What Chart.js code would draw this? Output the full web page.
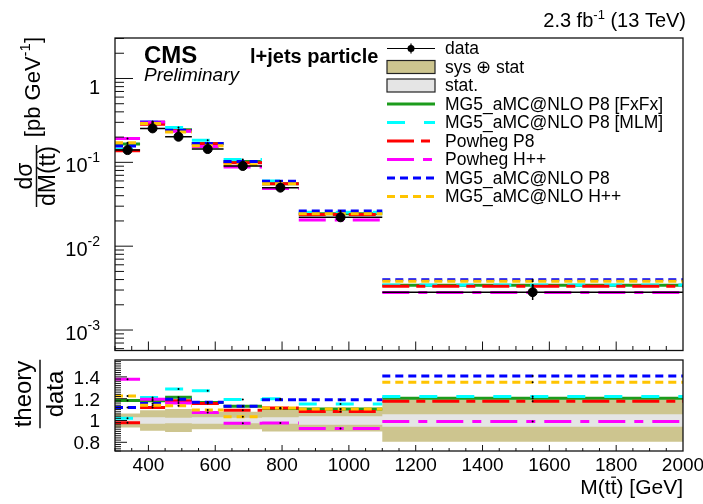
<!DOCTYPE html>
<html>
<head>
<meta charset="utf-8">
<script src="https://cdn.jsdelivr.net/npm/chart.js@4.4.1/dist/chart.umd.min.js"></script>
<style>
html,body{margin:0;padding:0;background:#fff;}
#wrap{position:relative;width:703px;height:504px;overflow:hidden;}
canvas{position:absolute;left:0;}
#top{top:0;}
#bot{top:356px;}
</style>
</head>
<body>
<div id="wrap">
<canvas id="top" width="703" height="356"></canvas>
<canvas id="bot" width="703" height="148"></canvas>
</div>
<script>
// bins in M(ttbar) [GeV]
const binEdges = [300, 375, 450, 530, 625, 740, 850, 1100, 2000];

// data, pb/GeV, and relative uncertainties
const dataXsec = [0.140, 0.254, 0.202, 0.144, 0.0904, 0.0499, 0.0221, 0.00283];
const totUnc   = [0.065, 0.095, 0.105, 0.080, 0.080, 0.100, 0.100, 0.195];
const statUnc  = [0.030, 0.030, 0.025, 0.030, 0.025, 0.030, 0.040, 0.058];

// predictions, pb/GeV
const fxfxXsec   = [0.1656, 0.2997, 0.2450, 0.1678, 0.1022, 0.0554, 0.02442, 0.00341];
const mlmXsec    = [0.1428, 0.3073, 0.2606, 0.1833, 0.1078, 0.0599, 0.02546, 0.00345];
const powP8Xsec  = [0.1372, 0.2845, 0.2384, 0.1665, 0.0988, 0.0556, 0.02391, 0.00333];
const powHppXsec = [0.1929, 0.3035, 0.2343, 0.1545, 0.0881, 0.0487, 0.02046, 0.00280];
const mgP8Xsec   = [0.1568, 0.2936, 0.2414, 0.1682, 0.1022, 0.0594, 0.02630, 0.00398];
const mgHppXsec  = [0.1715, 0.2896, 0.2293, 0.1578, 0.0936, 0.0556, 0.02442, 0.00382];

// theory / data
const fxfxRatio   = [1.183, 1.180, 1.213, 1.165, 1.130, 1.110, 1.105, 1.205];
const mlmRatio    = [1.020, 1.210, 1.290, 1.273, 1.193, 1.200, 1.152, 1.220];
const powP8Ratio  = [0.980, 1.120, 1.180, 1.156, 1.093, 1.115, 1.082, 1.177];
const powHppRatio = [1.378, 1.195, 1.160, 1.073, 0.975, 0.976, 0.926, 0.990];
const mgP8Ratio   = [1.120, 1.156, 1.195, 1.168, 1.130, 1.190, 1.190, 1.408];
const mgHppRatio  = [1.225, 1.140, 1.135, 1.096, 1.035, 1.115, 1.105, 1.350];

const modelNames = ["MG5_aMC@NLO P8 [FxFx]", "MG5_aMC@NLO P8 [MLM]", "Powheg P8",
                    "Powheg H++", "MG5_aMC@NLO P8", "MG5_aMC@NLO H++"];

// axis ticks / labels
const xLabelTicks  = [400, 600, 800, 1000, 1200, 1400, 1600, 1800, 2000];
const yTopTicks    = [1, 0.1, 0.01, 0.001];
const yTopExp      = ["", "-1", "-2", "-3"];
const yRatioTicks  = [0.8, 1, 1.2, 1.4];
const yRatioLabels = ["0.8", "1", "1.2", "1.4"];

/**************** styles *****************/
const FONT = "'Liberation Sans', Arial, Helvetica, sans-serif";
const modelStyle = [
  {color:"#1c9c1c", dash:[]},
  {color:"#00ffff", dash:[18,19]},
  {color:"#ff0000", dash:[27,7,9,7]},
  {color:"#ff00ff", dash:[27,9,9,9]},
  {color:"#0000ff", dash:[8,5]},
  {color:"#ffc400", dash:[8,5]}
];
const SYS_COLOR = "#cdc58f";
const STAT_COLOR = "#e5e5e5";

/**************** helpers *****************/
function binSegs(vals){
  const pts = [];
  vals.forEach((v,i)=>{
    pts.push({x:binEdges[i], y:v}, {x:binEdges[i+1], y:v}, {x:binEdges[i+1], y:null});
  });
  return pts;
}
function stepPts(vals){
  const pts = vals.map((v,i)=>({x:binEdges[i], y:v}));
  pts.push({x:binEdges[binEdges.length-1], y:vals[vals.length-1]});
  return pts;
}
function centers(){
  return dataXsec.map((v,i)=>(binEdges[i]+binEdges[i+1])/2);
}
function modelSets(arrs){
  const lines = arrs.map((a,i)=>({
    data: binSegs(a),
    borderColor: modelStyle[i].color,
    borderDash: modelStyle[i].dash,
    borderWidth: 3,
    pointRadius: 0,
    fill: false,
    order: 6 - i
  }));
  // tiny MC stat marks at bin centres
  const marks = arrs.map(a=>({
    data: a.map((v,i)=>({x:(binEdges[i]+binEdges[i+1])/2, y:v})),
    showLine:false, pointRadius:1, pointBorderWidth:0,
    pointBackgroundColor:"#000", pointBorderColor:"#000", order:0.5
  }));
  return lines.concat(marks);
}

function partsWidth(ctx, parts){
  let w = 0;
  parts.forEach(p=>{ ctx.font = (p.style||"")+" "+p.size+"px "+FONT; w += ctx.measureText(p.t).width; });
  return w;
}
function drawParts(ctx, parts, x, y, align){
  const w = partsWidth(ctx, parts);
  let cx = align==="right" ? x-w : (align==="center" ? x-w/2 : x);
  ctx.textAlign = "left";
  ctx.textBaseline = "alphabetic";
  parts.forEach(p=>{
    ctx.font = (p.style||"")+" "+p.size+"px "+FONT;
    const pw = ctx.measureText(p.t).width;
    ctx.fillText(p.t, cx, y + (p.dy||0));
    if(p.bar){
      ctx.beginPath();
      ctx.lineWidth = 1.3;
      const by = y - p.size*0.8;
      ctx.moveTo(cx+0.5, by); ctx.lineTo(cx+pw-0.5, by);
      ctx.stroke();
    }
    cx += pw;
  });
  return w;
}
function seg(ctx, x1, y1, x2, y2){
  ctx.beginPath(); ctx.moveTo(x1,y1); ctx.lineTo(x2,y2); ctx.stroke();
}
function frame(ctx, a){
  ctx.strokeStyle = "#111";
  ctx.lineWidth = 1.3;
  ctx.strokeRect(a.left, a.top, a.right-a.left, a.bottom-a.top);
}
function xTickMarks(chart, majLen, minLen){
  const ctx = chart.ctx, a = chart.chartArea, sx = chart.scales.x;
  ctx.strokeStyle = "#111"; ctx.lineWidth = 1;
  for(let v=300; v<2000; v+=50){
    const px = sx.getPixelForValue(v);
    seg(ctx, px, a.bottom, px, a.bottom - (v%200===0 ? majLen : minLen));
  }
}

/**************** TOP PANEL *****************/
const topDecor = {
  id:"topDecor",
  afterDraw(chart){
    const ctx = chart.ctx, a = chart.chartArea, sy = chart.scales.y;
    ctx.save();
    frame(ctx, a);
    xTickMarks(chart, 9, 4.5);
    // y ticks (log)
    ctx.lineWidth = 1;
    for(let d=-4; d<=0; d++){
      for(let m=1; m<=9; m++){
        const v = m*Math.pow(10,d);
        if(v < sy.min || v > sy.max) continue;
        const py = sy.getPixelForValue(v);
        seg(ctx, a.left, py, a.left + (m===1 ? 18 : 9), py);
      }
    }
    ctx.fillStyle = "#000";
    yTopTicks.forEach((v,i)=>{
      const py = sy.getPixelForValue(v);
      if(yTopExp[i]===""){
        drawParts(ctx, [{t:"1", size:20}], 100, py+16, "right");
      } else {
        drawParts(ctx, [{t:"10", size:20}, {t:yTopExp[i], size:14, dy:-10}], 100, py+10, "right");
      }
    });

    // y title
    ctx.save();
    ctx.translate(40, 37);
    ctx.rotate(-Math.PI/2);
    drawParts(ctx, [{t:"[pb GeV", size:22}, {t:"-1", size:15, dy:-10}, {t:"]", size:22}], 0, 0, "right");
    ctx.restore();
    ctx.save();
    ctx.translate(0, 176);
    ctx.rotate(-Math.PI/2);
    drawParts(ctx, [{t:"d\u03c3", size:23}], 0, 32, "center");
    const wDen = drawParts(ctx, [{t:"dM(t", size:23}, {t:"t", size:23, bar:true}, {t:")", size:23}], 0, 55, "center");
    ctx.lineWidth = 1.5;
    seg(ctx, -wDen/2-1, 36.5, wDen/2+1, 36.5);
    ctx.restore();

    // labels
    drawParts(ctx, [{t:"CMS", size:24, style:"bold"}], 144, 63, "left");
    drawParts(ctx, [{t:"Preliminary", size:19, style:"italic"}], 144, 81, "left");
    drawParts(ctx, [{t:"l+jets particle", size:20, style:"bold"}], 250, 63, "left");
    drawParts(ctx, [{t:"2.3 fb", size:20}, {t:"-1", size:13, dy:-8}, {t:" (13 TeV)", size:20}], 686, 27, "right");

    // legend
    const lx1 = 387, lx2 = 435, tx = 445, y0 = 48.5, dy = 18.5;
    ctx.font = "17.5px "+FONT;
    ctx.textBaseline = "middle"; ctx.textAlign = "left";
    const names = ["data", "sys \u2295 stat", "stat."].concat(modelNames);
    names.forEach((n,i)=>{ ctx.fillStyle="#000"; ctx.fillText(n, tx, y0 + i*dy + 1); });
    let y = y0;
    ctx.strokeStyle = "#000"; ctx.lineWidth = 1.2;
    seg(ctx, lx1, y, lx2, y);
    seg(ctx, (lx1+lx2)/2, y-5, (lx1+lx2)/2, y+5);
    ctx.beginPath(); ctx.arc((lx1+lx2)/2, y, 3.5, 0, Math.PI*2); ctx.fillStyle="#000"; ctx.fill();
    [SYS_COLOR, STAT_COLOR].forEach((c,i)=>{
      const yy = y0 + (i+1)*dy;
      ctx.fillStyle = c; ctx.fillRect(lx1, yy-6.5, lx2-lx1, 13);
      ctx.strokeStyle = "#222"; ctx.lineWidth = 1.2; ctx.strokeRect(lx1, yy-6.5, lx2-lx1, 13);
    });
    modelStyle.forEach((s,i)=>{
      const yy = y0 + (i+3)*dy;
      ctx.strokeStyle = s.color; ctx.lineWidth = 3; ctx.setLineDash(s.dash);
      seg(ctx, lx1, yy, lx2, yy);
    });
    ctx.setLineDash([]);
    ctx.restore();
  }
};

const c = centers();
new Chart(document.getElementById("top"), {
  type: "line",
  data: {
    datasets: modelSets([fxfxXsec, mlmXsec, powP8Xsec, powHppXsec, mgP8Xsec, mgHppXsec]).concat([
      { data: binSegs(dataXsec), borderColor:"#000", borderWidth:1.5, pointRadius:0, order:0 },
      { data: c.flatMap((x,i)=>[{x:x, y:dataXsec[i]*(1-totUnc[i])}, {x:x, y:dataXsec[i]*(1+totUnc[i])}, {x:x, y:null}]),
        borderColor:"#000", borderWidth:1.5, pointRadius:0, order:0 },
      { data: c.map((x,i)=>({x:x, y:dataXsec[i]})), showLine:false, pointRadius:4.5,
        pointBackgroundColor:"#000", pointBorderColor:"#000", order:0 }
    ])
  },
  options: {
    responsive:false, animation:false, events:[],
    layout:{padding:{left:115, right:20, top:38, bottom:5}},
    plugins:{legend:{display:false}, tooltip:{enabled:false}},
    scales:{
      x:{type:"linear", min:300, max:2000, display:false},
      y:{type:"logarithmic", min:5.7e-4, max:3.04, display:false}
    }
  },
  plugins:[topDecor]
});

/**************** RATIO PANEL *****************/
const OFF = 356;
const botDecor = {
  id:"botDecor",
  afterDraw(chart){
    const ctx = chart.ctx, a = chart.chartArea, sx = chart.scales.x, sy = chart.scales.y;
    ctx.save();
    frame(ctx, a);
    xTickMarks(chart, 6, 3);
    ctx.lineWidth = 1;
    for(let k=36; k<=77; k++){
      const v = k*0.02;
      if(v < sy.min || v > sy.max) continue;
      const py = sy.getPixelForValue(v);
      seg(ctx, a.left, py, a.left + (k%10===0 ? 12 : 6), py);
    }
    ctx.fillStyle = "#000";
    yRatioTicks.forEach((v,i)=>{
      drawParts(ctx, [{t:yRatioLabels[i], size:19}], 100, sy.getPixelForValue(v)+7, "right");
    });
    xLabelTicks.forEach(v=>{
      drawParts(ctx, [{t:String(v), size:19}], sx.getPixelForValue(v), 471-OFF, "center");
    });
    drawParts(ctx, [{t:"M(t", size:21}, {t:"t", size:21, bar:true}, {t:") [GeV]", size:21}], 683, 494-OFF, "right");
    // y title
    ctx.save();
    ctx.translate(0, 394-OFF);
    ctx.rotate(-Math.PI/2);
    const w1 = drawParts(ctx, [{t:"theory", size:24}], 0, 31, "center");
    drawParts(ctx, [{t:"data", size:24}], 0, 63, "center");
    ctx.lineWidth = 1.5;
    seg(ctx, -w1/2-1, 40, w1/2+1, 40);
    ctx.restore();
    ctx.restore();
  }
};

new Chart(document.getElementById("bot"), {
  type: "line",
  data: {
    datasets: [
      { data: stepPts(totUnc.map(u=>1+u)), stepped:true, borderWidth:0, borderColor:"rgba(0,0,0,0)", pointRadius:0, fill:false, order:20 },
      { data: stepPts(totUnc.map(u=>1-u)), stepped:true, borderWidth:0, borderColor:"rgba(0,0,0,0)", pointRadius:0,
        fill:{target:0}, backgroundColor:SYS_COLOR, order:19 },
      { data: stepPts(statUnc.map(u=>1+u)), stepped:true, borderWidth:0, borderColor:"rgba(0,0,0,0)", pointRadius:0, fill:false, order:18 },
      { data: stepPts(statUnc.map(u=>1-u)), stepped:true, borderWidth:0, borderColor:"rgba(0,0,0,0)", pointRadius:0,
        fill:{target:2}, backgroundColor:STAT_COLOR, order:17 }
    ].concat(modelSets([fxfxRatio, mlmRatio, powP8Ratio, powHppRatio, mgP8Ratio, mgHppRatio]))
  },
  options: {
    responsive:false, animation:false, events:[],
    layout:{padding:{left:115, right:20, top:2.5, bottom:53}},
    plugins:{legend:{display:false}, tooltip:{enabled:false}},
    scales:{
      x:{type:"linear", min:300, max:2000, display:false},
      y:{type:"linear", min:0.72, max:1.555, display:false}
    }
  },
  plugins:[botDecor]
});
</script>
</body>
</html>
